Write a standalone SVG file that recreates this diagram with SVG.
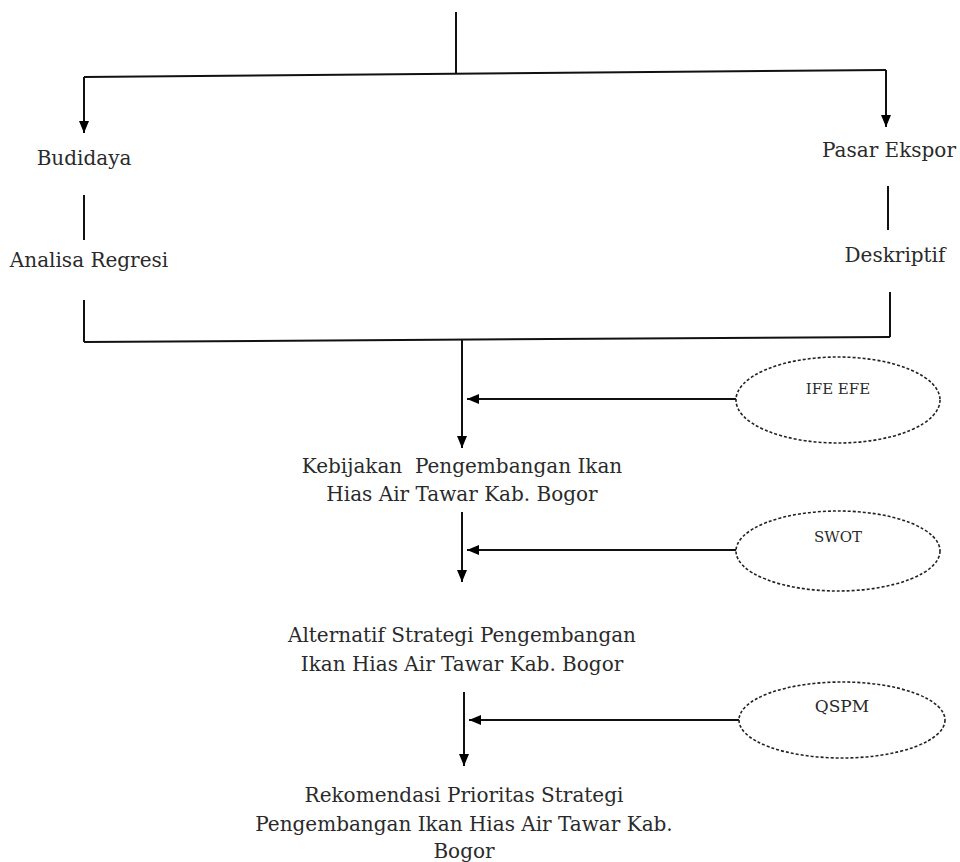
<svg xmlns="http://www.w3.org/2000/svg" width="960" height="862" viewBox="0 0 960 862">
<defs>
<marker id="ah" viewBox="0 0 12 10" refX="12" refY="5" markerWidth="12" markerHeight="10" markerUnits="userSpaceOnUse" orient="auto">
<path d="M0,0 L12,5 L0,10 Z" fill="#000"/>
</marker>
</defs>
<style>
text{font-family:"DejaVu Serif","Liberation Serif",serif;fill:#2a2a2a;text-anchor:middle;white-space:pre}
.t{font-size:20px}
.s{font-size:15px}
.ln{stroke:#111;stroke-width:2;fill:none}
.ar{stroke:#111;stroke-width:2;fill:none;marker-end:url(#ah)}
.el{stroke:#222;stroke-width:1.6;stroke-dasharray:3 2;fill:#fff}
</style>
<rect width="960" height="862" fill="#fff"/>
<g id="connectors">
<line class="ln" x1="456" y1="12" x2="456" y2="73"/>
<line class="ln" x1="84" y1="77" x2="886" y2="70"/>
<line class="ar" x1="84" y1="77" x2="84" y2="133"/>
<line class="ar" x1="886" y1="70" x2="886" y2="127"/>
<line class="ln" x1="84" y1="195" x2="84" y2="240"/>
<line class="ln" x1="888" y1="186" x2="888" y2="230"/>
<line class="ln" x1="84" y1="300" x2="84" y2="342"/>
<line class="ln" x1="890" y1="292" x2="890" y2="337"/>
<line class="ln" x1="84" y1="342" x2="890" y2="337"/>
<line class="ar" x1="462" y1="340" x2="462" y2="448"/>
<line class="ar" x1="736" y1="399" x2="467" y2="399"/>
<line class="ar" x1="462" y1="512" x2="462" y2="582"/>
<line class="ar" x1="737" y1="550" x2="467" y2="550"/>
<line class="ar" x1="464" y1="692" x2="464" y2="766"/>
<line class="ar" x1="740" y1="720" x2="469" y2="720"/>
</g>
<g id="budidaya"><text class="t" x="84" y="165">Budidaya</text></g>
<g id="analisa-regresi"><text class="t" x="89" y="267">Analisa Regresi</text></g>
<g id="pasar-ekspor"><text class="t" x="822" y="157" style="text-anchor:start">Pasar Ekspor</text></g>
<g id="deskriptif"><text class="t" x="895" y="262">Deskriptif</text></g>
<g id="ife-efe"><ellipse class="el" cx="838" cy="400" rx="102" ry="43"/><text class="s" x="838" y="394">IFE EFE</text></g>
<g id="kebijakan"><text class="t" x="462" y="473">Kebijakan  Pengembangan Ikan</text><text class="t" x="462" y="501">Hias Air Tawar Kab. Bogor</text></g>
<g id="swot"><ellipse class="el" cx="838" cy="551" rx="102" ry="40"/><text class="s" x="838" y="542">SWOT</text></g>
<g id="alternatif"><text class="t" x="462" y="642">Alternatif Strategi Pengembangan</text><text class="t" x="462" y="671">Ikan Hias Air Tawar Kab. Bogor</text></g>
<g id="qspm"><ellipse class="el" cx="842" cy="720" rx="103" ry="38"/><text class="s" x="842" y="712" style="font-size:17px">QSPM</text></g>
<g id="rekomendasi"><text class="t" x="464" y="802">Rekomendasi Prioritas Strategi</text><text class="t" x="464" y="831">Pengembangan Ikan Hias Air Tawar Kab.</text><text class="t" x="464" y="858">Bogor</text></g>
</svg>
